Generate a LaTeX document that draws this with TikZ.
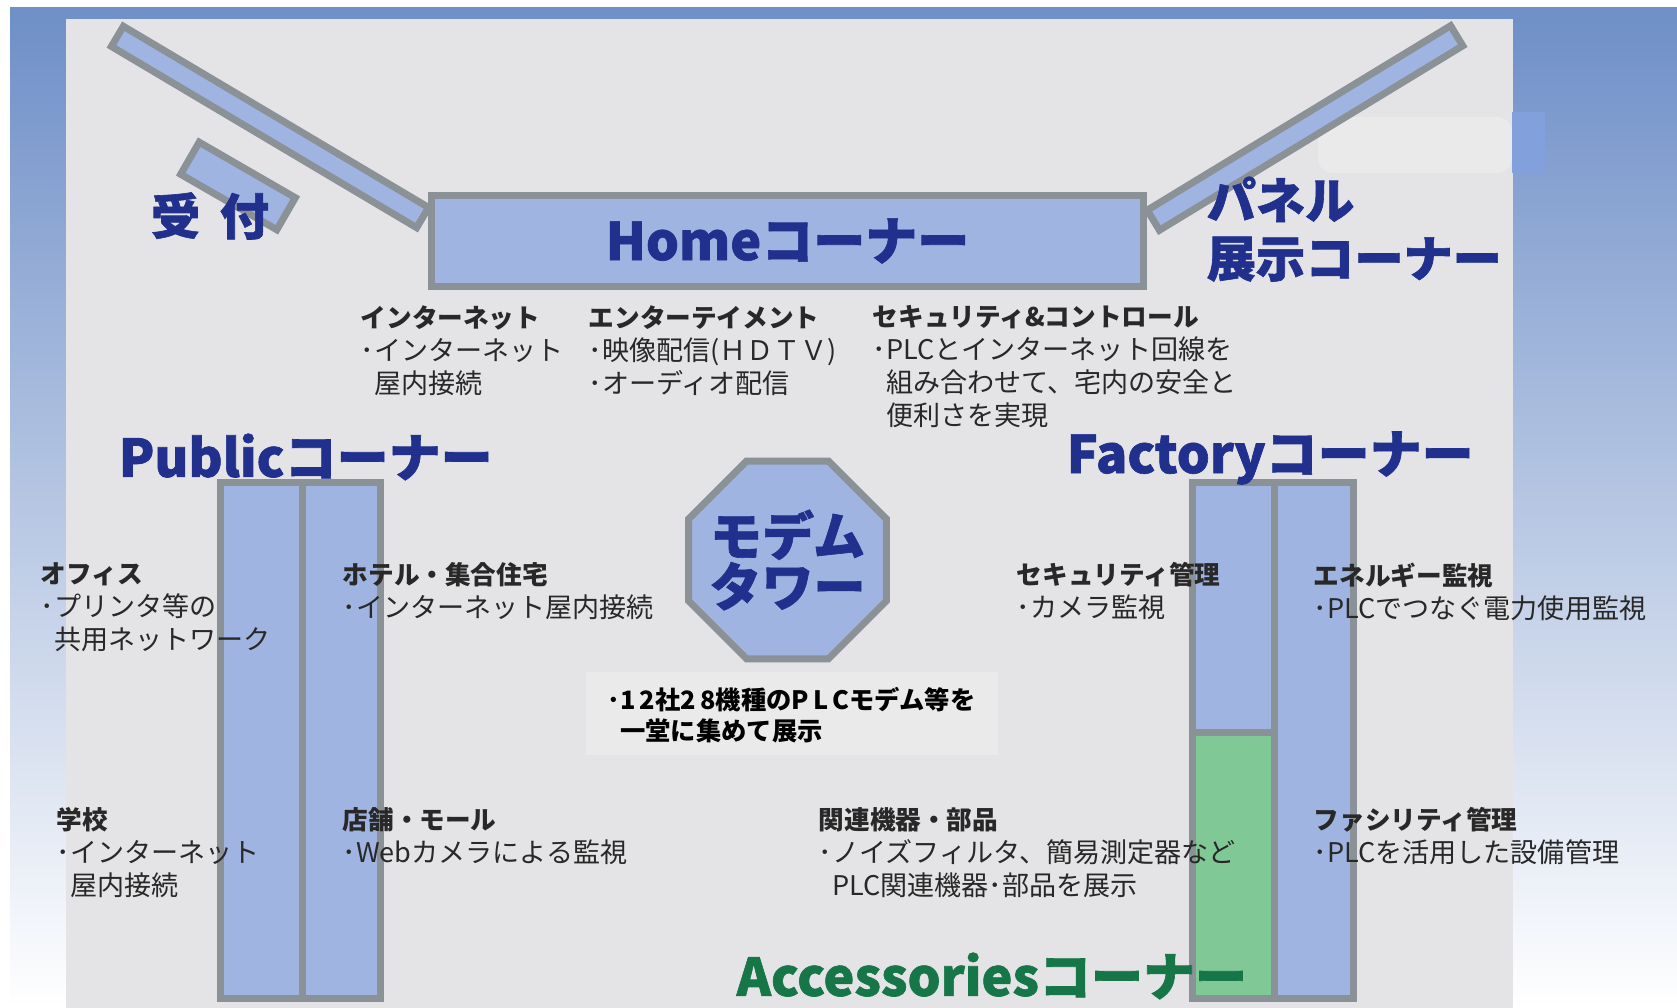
\documentclass[tikz,border=0pt]{standalone}
\usepackage{fontspec}
\setmainfont{Noto Sans CJK JP}
\newfontfamily\heavy{Noto Sans CJK JP}[BoldFeatures={FakeBold=1.2}]
\usetikzlibrary{shapes.geometric}

\definecolor{floor}{RGB}{228,228,230}
\definecolor{floorlight}{RGB}{234,234,235}
\definecolor{wallblue}{RGB}{112,144,200}
\definecolor{patchblue}{RGB}{130,160,220}
\definecolor{booth}{RGB}{160,180,226}
\definecolor{boothedge}{RGB}{138,146,152}
\definecolor{accgreen}{RGB}{128,200,150}
\definecolor{navy}{RGB}{32,48,140}
\definecolor{darkgreen}{RGB}{22,118,72}
\definecolor{ink}{RGB}{40,40,40}

\newcommand{\hd}[1]{{\fontsize{7.3}{9.4}\selectfont\bfseries #1}}
\newcommand{\bl}[1]{･#1}
\newcommand{\cn}[1]{\phantom{･}#1}

\tikzset{
  booth/.style={fill=booth, draw=boothedge, line width=0.07cm},
  corner/.style={text=navy, font=\heavy\fontsize{14.8}{16.5}\selectfont\bfseries, inner sep=0pt},
  info/.style={text=ink, font=\fontsize{7.7}{9.4}\selectfont, align=left, anchor=north west, inner sep=0pt},
}

\begin{document}
\begin{tikzpicture}

\useasboundingbox (0,0) rectangle (16.77,10.08);

% --- Hall walls ---
\fill[white] (0,0) rectangle (16.77,10.08);
\fill[wallblue] (0.10,9.89) rectangle (16.77,10.005);
\shade[top color=wallblue, bottom color=white] (0.10,0) rectangle (0.66,9.89);
\shade[top color=wallblue, bottom color=white] (15.13,0) rectangle (16.77,9.89);
\fill[floor] (0.66,0) rectangle (15.13,9.89);
\fill[floorlight, rounded corners=0.15cm] (13.18,8.35) rectangle (15.12,8.91);
\fill[patchblue] (15.12,8.35) rectangle (15.45,8.96);

% --- Reception and panel walls ---
\node[booth, minimum width=3.55cm, minimum height=0.19cm, rotate=-30.7] (wallL) at (2.70,8.81) {};
\node[booth, minimum width=1.11cm, minimum height=0.37cm, rotate=-30] (desk) at (2.38,8.22) {};
\node[booth, minimum width=3.55cm, minimum height=0.19cm, rotate=31.3] (wallR) at (13.05,8.80) {};

% --- Booths ---
\node[booth, corner, minimum width=7.12cm, minimum height=0.91cm] (home) at (7.875,7.67) {Homeコーナー};

\draw[booth] (2.205,0.095) rectangle (3.02,5.255);
\draw[booth] (3.02,0.095) rectangle (3.805,5.255);

\draw[booth] (11.925,2.75) rectangle (12.74,5.255);
\draw[booth, fill=accgreen] (11.925,0.095) rectangle (12.74,2.75);
\draw[booth] (12.74,0.095) rectangle (13.535,5.255);

\node[booth, regular polygon, regular polygon sides=8, minimum size=2.14cm] (tower) at (7.875,4.48) {};
\node[corner, align=center, font=\heavy\fontsize{14.8}{14.5}\selectfont\bfseries] (towerlabel) at (tower) {モデム\\タワー};

\fill[floorlight] (5.86,2.53) rectangle (9.98,3.36);

% --- Corner titles ---
\node[corner, font=\heavy\fontsize{14}{16}\selectfont\bfseries] (reception) at (2.10,7.92) {受\hspace{0.4em}付};
\node[corner, anchor=north west, align=left, font=\heavy\fontsize{14}{16.5}\selectfont\bfseries] (panel) at (12.06,8.32) {パネル\\展示コーナー};
\node[corner, anchor=west] (public) at (1.18,5.51) {Publicコーナー};
\node[corner, anchor=west] (factory) at (10.66,5.50) {Factoryコーナー};
\node[corner, anchor=west, text=darkgreen] (accessories) at (7.36,0.32) {Accessoriesコーナー};

% --- Exhibit notes ---
\node[info] (internet) at (3.60,7.03) {\hd{インターネット}\\\bl{インターネット}\\\cn{屋内接続}};
\node[info] (entertain) at (5.88,7.03) {\hd{エンターテイメント}\\\bl{映像配信(ＨＤＴＶ)}\\\bl{オーディオ配信}};
\node[info] (control) at (8.72,7.03) {\hd{セキュリティ\&コントロール}\\\bl{PLCとインターネット回線を}\\\cn{組み合わせて、宅内の安全と}\\\cn{便利さを実現}};
\node[info] (office) at (0.40,4.46) {\hd{オフィス}\\\bl{プリンタ等の}\\\cn{共用ネットワーク}};
\node[info] (hotel) at (3.42,4.46) {\hd{ホテル・集合住宅}\\\bl{インターネット屋内接続}};
\node[info] (school) at (0.56,2.01) {\hd{学校}\\\bl{インターネット}\\\cn{屋内接続}};
\node[info] (shop) at (3.42,2.01) {\hd{店舗・モール}\\\bl{Webカメラによる監視}};
\node[info] (camera) at (10.16,4.46) {\hd{セキュリティ管理}\\\bl{カメラ監視}};
\node[info] (energy) at (13.13,4.46) {\hd{エネルギー監視}\\\bl{PLCでつなぐ電力使用監視}};
\node[info] (parts) at (8.18,2.01) {\hd{関連機器・部品}\\\bl{ノイズフィルタ、簡易測定器など}\\\cn{PLC関連機器･部品を展示}};
\node[info] (facility) at (13.13,2.01) {\hd{ファシリティ管理}\\\bl{PLCを活用した設備管理}};

\node[info, text=black, font=\fontsize{7.2}{8.8}\selectfont\bfseries] (towerinfo) at (6.07,3.21)
  {･1\,2社2\,8機種のP\,L\,Cモデム等を\\\phantom{･}一堂に集めて展示};

\end{tikzpicture}
\end{document}
